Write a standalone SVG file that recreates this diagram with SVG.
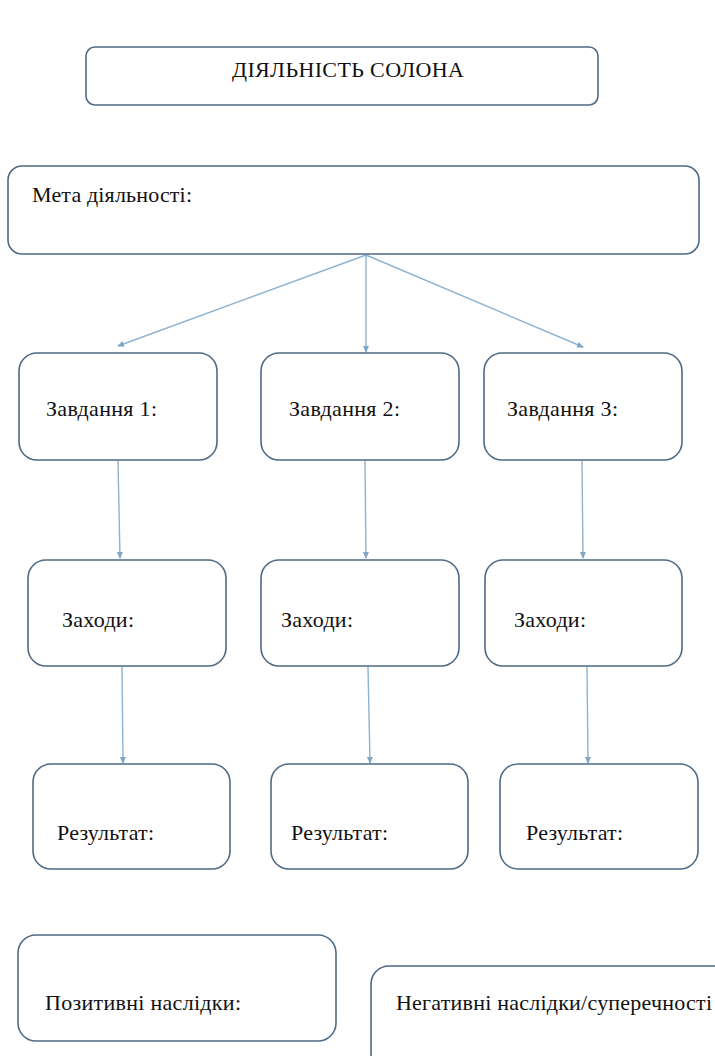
<svg xmlns="http://www.w3.org/2000/svg" width="715" height="1056" viewBox="0 0 715 1056">
<defs>
<style>
.box{fill:#fff;stroke:#4f6a85;stroke-width:1.6}
.t{font-size:22px;fill:#111}
.c{stroke:#8db3d1;stroke-width:1.4;fill:none;marker-end:url(#ah)}
</style>
<marker id="ah" markerWidth="8" markerHeight="8" refX="6" refY="4" orient="auto" markerUnits="userSpaceOnUse">
<path d="M0,1 L7,4 L0,7 z" fill="#7fa6c6"/>
</marker>
</defs>
<rect width="715" height="1056" fill="#fff"/>
<g id="connectors">
<line class="c" x1="366" y1="255" x2="118" y2="346"/>
<line class="c" x1="366" y1="255" x2="366" y2="352"/>
<line class="c" x1="366" y1="255" x2="583" y2="347"/>
<line class="c" x1="118" y1="461" x2="120" y2="558"/>
<line class="c" x1="365" y1="461" x2="366" y2="558"/>
<line class="c" x1="582" y1="461" x2="583" y2="558"/>
<line class="c" x1="122" y1="667" x2="123" y2="763"/>
<line class="c" x1="368" y1="667" x2="370" y2="763"/>
<line class="c" x1="587" y1="667" x2="588" y2="763"/>
</g>
<g font-family="Liberation Serif, DejaVu Serif, serif">
<g id="title"><rect class="box" x="86" y="47" width="512" height="58" rx="9"/><text class="t" x="348" y="77" text-anchor="middle" textLength="232">ДІЯЛЬНІСТЬ СОЛОНА</text></g>
<g id="meta"><rect class="box" x="8" y="166" width="691" height="88" rx="14"/><text class="t" x="32" y="202" textLength="160">Мета діяльності:</text></g>
<g id="task1"><rect class="box" x="19" y="353" width="198" height="107" rx="18"/><text class="t" x="46" y="416" textLength="111">Завдання 1:</text></g>
<g id="task2"><rect class="box" x="261" y="353" width="198" height="107" rx="18"/><text class="t" x="289" y="416" textLength="111">Завдання 2:</text></g>
<g id="task3"><rect class="box" x="484" y="353" width="198" height="107" rx="18"/><text class="t" x="507" y="416" textLength="111">Завдання 3:</text></g>
<g id="measures1"><rect class="box" x="28" y="560" width="198" height="106" rx="18"/><text class="t" x="62" y="627" textLength="72">Заходи:</text></g>
<g id="measures2"><rect class="box" x="261" y="560" width="198" height="106" rx="18"/><text class="t" x="281" y="627" textLength="72">Заходи:</text></g>
<g id="measures3"><rect class="box" x="485" y="560" width="197" height="106" rx="18"/><text class="t" x="514" y="627" textLength="72">Заходи:</text></g>
<g id="result1"><rect class="box" x="33" y="764" width="197" height="105" rx="18"/><text class="t" x="57" y="840" textLength="97">Результат:</text></g>
<g id="result2"><rect class="box" x="271" y="764" width="197" height="105" rx="18"/><text class="t" x="291" y="840" textLength="97">Результат:</text></g>
<g id="result3"><rect class="box" x="500" y="764" width="198" height="105" rx="18"/><text class="t" x="526" y="840" textLength="97">Результат:</text></g>
<g id="positive"><rect class="box" x="18" y="935" width="318" height="106" rx="18"/><text class="t" x="45" y="1010" textLength="196">Позитивні наслідки:</text></g>
<g id="negative"><rect class="box" x="371" y="966" width="380" height="120" rx="18"/><text class="t" x="396" y="1010" textLength="316">Негативні наслідки/суперечності</text></g>
</g>
</svg>
